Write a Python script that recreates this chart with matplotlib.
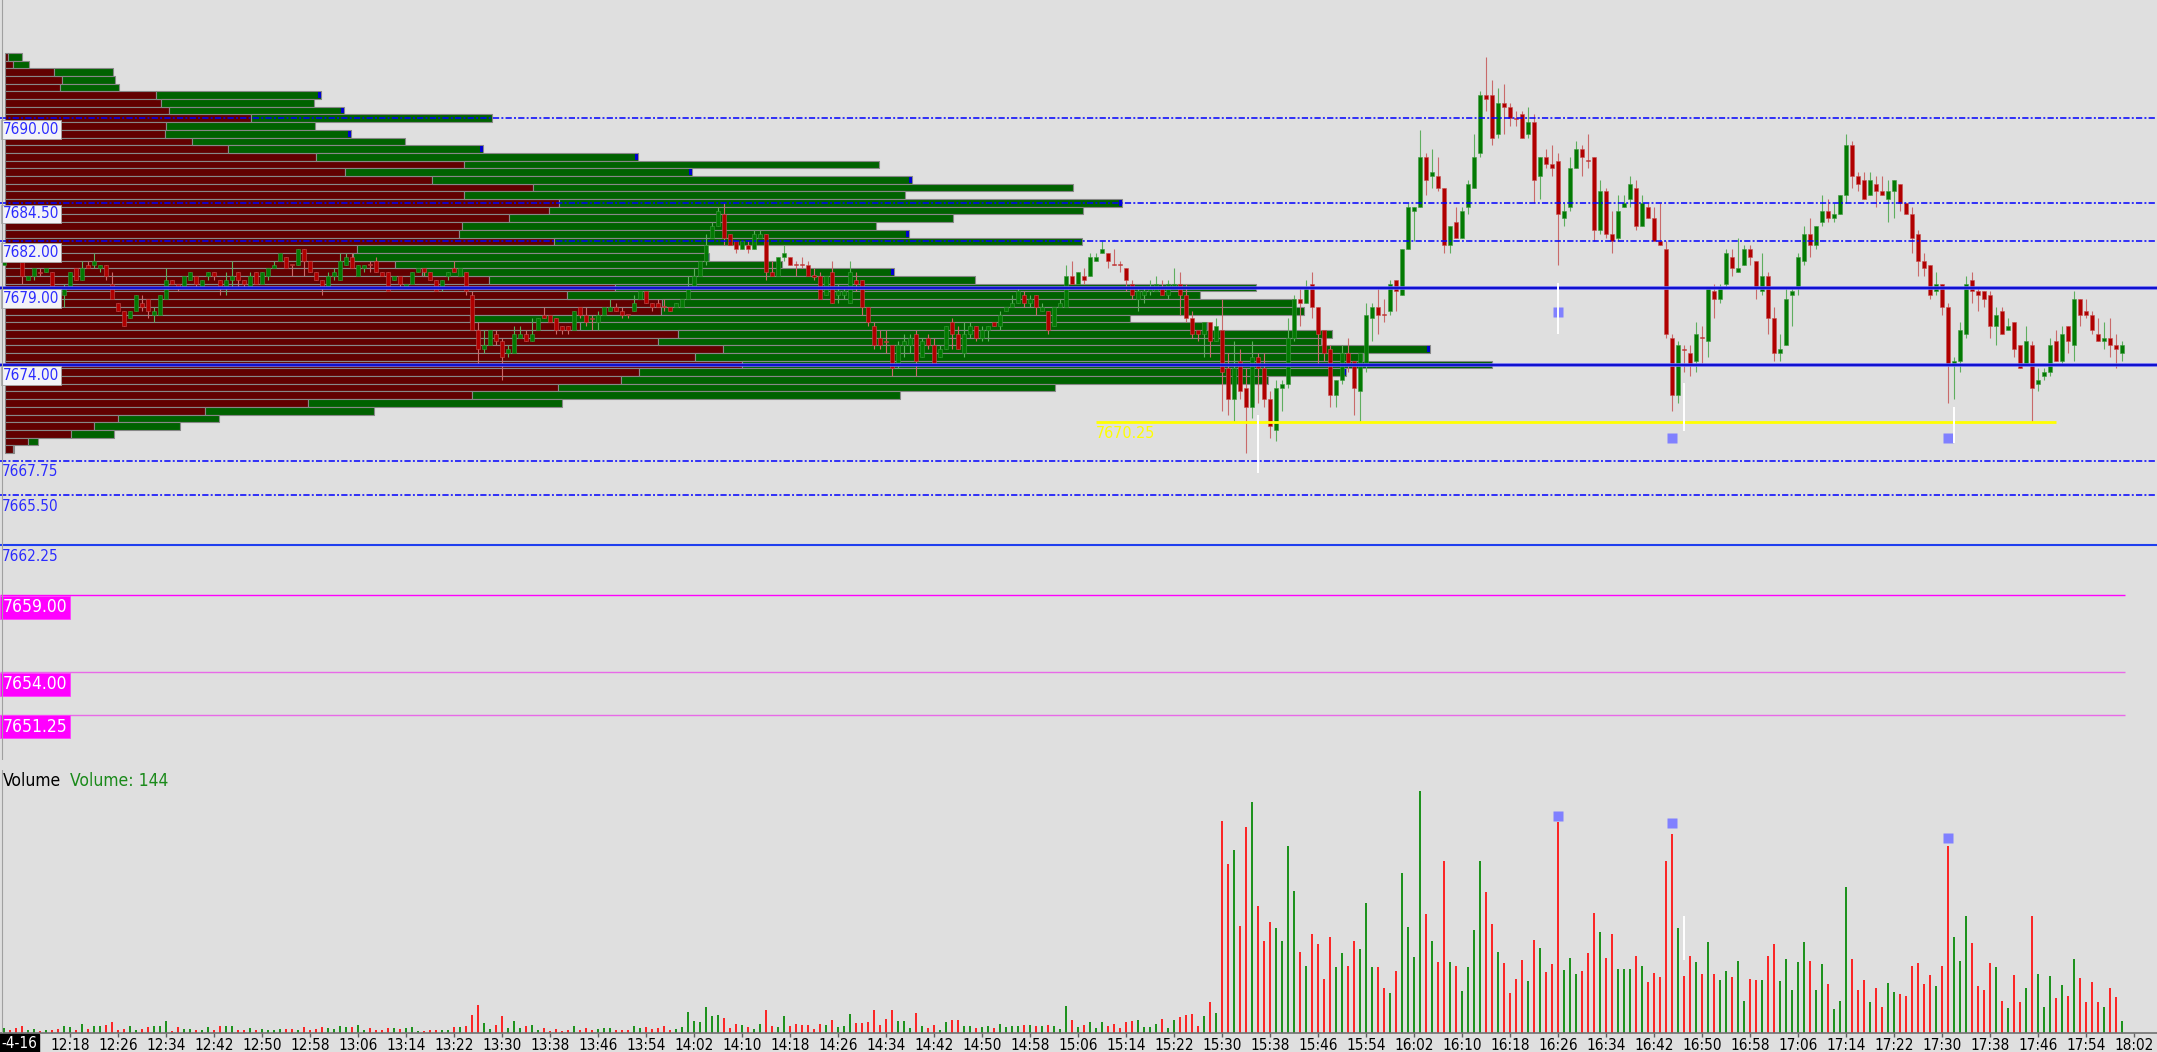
import numpy as np
import matplotlib
matplotlib.use("Agg")
import matplotlib.pyplot as plt
import matplotlib.transforms as mtransforms
from matplotlib import font_manager
from matplotlib.font_manager import FontProperties

# ---------------- data ----------------
session_start = "12:07"

opens = [
 7680.5, 7681.0, 7681.0, 7680.75, 7679.5, 7679.75, 7680.0, 7680.0, 7680.0, 7678.75,
 7678.5, 7679.0, 7680.25, 7679.5, 7680.5, 7680.5, 7680.25, 7680.5, 7679.25, 7678.0,
 7677.5, 7677.0, 7677.5, 7678.0, 7678.25, 7677.25, 7677.25, 7678.25, 7679.5, 7679.25,
 7679.0, 7679.5, 7679.75, 7679.0, 7679.75, 7680.0, 7679.5, 7679.0, 7679.5, 7680.0,
 7679.5, 7679.0, 7680.0, 7679.25, 7679.75, 7680.25, 7680.75, 7681.0, 7680.5, 7680.5,
 7681.5, 7680.75, 7680.0, 7679.5, 7679.0, 7679.75, 7679.5, 7680.5, 7681.0, 7679.75,
 7680.25, 7680.5, 7680.75, 7680.0, 7680.0, 7679.5, 7679.75, 7679.0, 7679.25, 7680.0,
 7680.25, 7680.0, 7679.5, 7679.0, 7679.75, 7680.25, 7679.75, 7680.0, 7678.5, 7676.25,
 7675.0, 7675.25, 7676.0, 7675.5, 7674.75, 7674.75, 7675.75, 7676.0, 7675.5, 7676.25,
 7677.25, 7677.25, 7677.0, 7676.5, 7676.5, 7676.25, 7677.75, 7677.25, 7677.0, 7676.75,
 7677.25, 7677.5, 7677.75, 7677.5, 7677.25, 7677.5, 7678.25, 7678.75, 7678.0, 7678.0,
 7677.75, 7677.75, 7677.75, 7677.75, 7678.25, 7679.0, 7679.75, 7680.75, 7682.25, 7683.0,
 7683.75, 7682.5, 7682.0, 7681.5, 7681.75, 7681.5, 7682.25, 7682.5, 7680.0, 7679.75,
 7681.0, 7681.0, 7680.5, 7680.5, 7680.5, 7679.75, 7679.75, 7678.5, 7680.0, 7678.5,
 7678.5, 7678.0, 7679.5, 7679.5, 7677.75, 7676.5, 7675.75, 7675.5, 7675.25, 7674.0,
 7675.25, 7675.25, 7676.0, 7674.5, 7675.75, 7675.25, 7674.5, 7675.0, 7676.75, 7676.0,
 7674.75, 7676.0, 7676.5, 7675.75, 7676.25, 7676.75, 7676.5, 7677.5, 7677.75, 7678.0,
 7678.5, 7678.0, 7678.5, 7677.5, 7677.5, 7676.5, 7677.75, 7677.75, 7679.75, 7679.25,
 7679.75, 7679.75, 7680.75, 7681.25, 7681.25, 7680.5, 7680.5, 7680.25, 7679.25, 7678.25,
 7678.5, 7678.75, 7678.75, 7679.0, 7678.5, 7679.0, 7679.25, 7678.5, 7677.0, 7676.25,
 7676.0, 7676.75, 7675.5, 7676.25, 7673.75, 7671.75, 7674.25, 7672.5, 7671.25, 7674.5,
 7673.75, 7671.75, 7669.75, 7672.5, 7672.75, 7675.75, 7678.25, 7678.0, 7679.25, 7677.75,
 7676.25, 7675.0, 7672.0, 7673.0, 7674.75, 7674.25, 7672.25, 7674.0, 7677.0, 7677.75,
 7677.25, 7677.5, 7679.5, 7678.5, 7681.5, 7684.0, 7684.25, 7687.5, 7686.25, 7686.25,
 7685.5, 7681.75, 7683.25, 7682.25, 7684.25, 7685.5, 7687.75, 7691.5, 7691.5, 7689.0,
 7691.0, 7690.75, 7690.0, 7690.25, 7689.0, 7689.75, 7686.25, 7687.5, 7687.0, 7687.25,
 7683.5, 7684.25, 7686.75, 7688.0, 7687.25, 7687.5, 7682.75, 7685.25, 7682.5, 7682.25,
 7684.25, 7684.75, 7685.5, 7683.0, 7684.25, 7683.5, 7682.0, 7681.5, 7675.75, 7672.0,
 7675.0, 7674.75, 7674.25, 7675.75, 7675.5, 7678.75, 7678.25, 7679.25, 7681.0, 7680.0,
 7680.5, 7681.5, 7680.75, 7678.75, 7679.75, 7677.0, 7674.75, 7675.25, 7678.5, 7679.0,
 7680.75, 7682.5, 7681.75, 7683.25, 7684.0, 7683.5, 7683.75, 7685.0, 7688.25, 7686.25,
 7686.0, 7685.0, 7685.75, 7685.25, 7684.75, 7685.25, 7685.75, 7684.5, 7683.75, 7682.5,
 7680.75, 7680.5, 7678.75, 7679.25, 7677.75, 7674.0, 7674.25, 7676.0, 7679.5, 7678.75,
 7678.75, 7678.5, 7676.5, 7677.5, 7676.25, 7676.75, 7675.25, 7674.0, 7675.25, 7672.75,
 7673.25, 7673.5, 7675.5, 7674.25, 7676.5, 7675.25, 7678.25, 7677.5, 7677.25, 7676.0,
 7675.5, 7675.75, 7675.25, 7674.75]

highs = [
 7681.25, 7681.0, 7681.0, 7680.75, 7679.75, 7680.25, 7680.25, 7680.25, 7680.0, 7679.0,
 7679.25, 7680.0, 7680.25, 7680.75, 7680.75, 7681.25, 7680.5, 7680.5, 7680.0, 7678.0,
 7677.5, 7677.5, 7678.5, 7678.5, 7678.25, 7677.75, 7678.5, 7680.25, 7679.5, 7679.25,
 7679.75, 7680.0, 7679.75, 7679.5, 7680.0, 7680.0, 7679.5, 7680.0, 7680.75, 7680.0,
 7679.5, 7680.0, 7680.0, 7680.0, 7680.25, 7680.75, 7681.25, 7681.0, 7680.5, 7681.5,
 7681.5, 7680.75, 7680.0, 7679.5, 7680.0, 7680.25, 7681.25, 7681.25, 7681.25, 7680.5,
 7680.5, 7680.75, 7681.0, 7680.0, 7680.0, 7679.75, 7679.75, 7679.25, 7680.0, 7680.25,
 7680.25, 7680.0, 7679.5, 7679.5, 7680.0, 7680.75, 7680.25, 7680.0, 7678.75, 7676.75,
 7676.25, 7676.25, 7676.25, 7675.75, 7675.25, 7676.5, 7676.5, 7676.25, 7677.0, 7677.0,
 7677.75, 7677.25, 7677.0, 7676.5, 7676.5, 7677.5, 7677.75, 7677.75, 7677.25, 7677.5,
 7677.75, 7678.25, 7678.0, 7677.75, 7677.25, 7678.5, 7678.75, 7678.75, 7678.0, 7678.25,
 7678.25, 7677.75, 7678.0, 7678.25, 7679.75, 7680.25, 7680.75, 7682.5, 7683.25, 7684.25,
 7684.5, 7682.5, 7682.0, 7682.0, 7682.0, 7682.75, 7682.75, 7682.5, 7680.75, 7681.0,
 7681.75, 7681.0, 7680.75, 7681.0, 7680.75, 7680.25, 7680.0, 7679.75, 7680.75, 7679.25,
 7679.0, 7680.75, 7680.0, 7679.5, 7677.75, 7676.75, 7676.25, 7676.25, 7675.25, 7675.5,
 7676.0, 7676.0, 7676.25, 7675.75, 7676.0, 7675.75, 7675.25, 7676.5, 7677.0, 7676.5,
 7676.75, 7676.75, 7676.5, 7676.5, 7676.5, 7676.75, 7677.5, 7677.75, 7678.5, 7679.0,
 7678.75, 7678.5, 7678.5, 7678.0, 7677.5, 7677.75, 7678.25, 7680.5, 7680.75, 7680.0,
 7680.25, 7681.25, 7681.25, 7682.0, 7681.25, 7681.5, 7680.75, 7680.25, 7679.5, 7679.0,
 7679.0, 7679.5, 7679.75, 7679.5, 7679.5, 7680.25, 7680.0, 7679.25, 7677.5, 7676.25,
 7676.75, 7676.75, 7677.0, 7678.25, 7674.75, 7675.5, 7675.0, 7673.75, 7675.5, 7674.75,
 7674.75, 7672.25, 7673.0, 7673.0, 7677.0, 7678.5, 7679.0, 7679.5, 7680.0, 7677.75,
 7676.25, 7675.25, 7673.0, 7675.25, 7675.75, 7674.25, 7674.75, 7678.0, 7678.0, 7679.0,
 7678.25, 7679.5, 7679.5, 7681.5, 7684.5, 7684.25, 7689.25, 7687.75, 7688.0, 7687.5,
 7685.5, 7683.0, 7684.25, 7684.25, 7686.0, 7689.0, 7691.75, 7694.0, 7692.5, 7692.0,
 7692.25, 7691.0, 7690.5, 7690.5, 7690.75, 7690.25, 7687.5, 7688.0, 7688.25, 7687.75,
 7684.5, 7687.5, 7688.5, 7688.25, 7689.0, 7687.5, 7686.0, 7685.5, 7684.0, 7685.0,
 7685.0, 7686.25, 7686.0, 7685.0, 7684.5, 7684.25, 7684.5, 7682.0, 7676.0, 7675.5,
 7675.25, 7675.25, 7676.75, 7676.5, 7679.0, 7679.25, 7679.25, 7681.5, 7681.5, 7682.25,
 7681.75, 7681.75, 7680.75, 7681.25, 7680.0, 7677.75, 7676.0, 7679.0, 7679.0, 7681.25,
 7683.0, 7683.5, 7683.0, 7685.0, 7684.75, 7684.5, 7685.0, 7689.0, 7688.5, 7686.5,
 7686.5, 7686.5, 7686.25, 7686.25, 7686.0, 7686.0, 7685.75, 7684.5, 7684.25, 7682.75,
 7681.25, 7680.5, 7680.0, 7679.25, 7678.0, 7674.5, 7676.75, 7679.75, 7680.0, 7679.0,
 7678.75, 7678.75, 7677.75, 7677.75, 7677.0, 7676.75, 7675.25, 7676.5, 7675.5, 7673.75,
 7673.75, 7675.75, 7676.25, 7676.5, 7676.5, 7678.75, 7678.25, 7678.25, 7677.5, 7677.0,
 7676.75, 7677.0, 7676.0, 7675.5]

lows = [
 7680.5, 7680.75, 7680.75, 7679.25, 7679.5, 7679.5, 7679.75, 7680.0, 7679.0, 7678.0,
 7677.75, 7679.0, 7679.5, 7679.5, 7680.25, 7680.25, 7680.0, 7679.5, 7678.25, 7677.5,
 7676.5, 7677.0, 7677.5, 7677.5, 7677.0, 7676.75, 7677.25, 7678.25, 7679.25, 7678.75,
 7679.0, 7679.5, 7679.0, 7679.0, 7679.5, 7679.5, 7678.5, 7678.5, 7679.0, 7679.0,
 7679.0, 7679.0, 7679.25, 7679.25, 7679.5, 7680.25, 7680.75, 7680.25, 7679.75, 7680.5,
 7679.75, 7680.0, 7679.5, 7678.5, 7679.0, 7679.5, 7679.5, 7680.5, 7680.25, 7679.75,
 7680.0, 7680.0, 7680.0, 7679.75, 7678.75, 7679.5, 7679.0, 7679.0, 7679.25, 7680.0,
 7679.75, 7679.5, 7678.75, 7678.75, 7679.5, 7680.0, 7679.75, 7678.5, 7676.25, 7674.0,
 7674.75, 7675.25, 7675.25, 7673.0, 7674.5, 7674.75, 7675.75, 7675.5, 7675.5, 7676.25,
 7677.0, 7676.75, 7676.0, 7676.0, 7676.0, 7676.25, 7677.0, 7676.5, 7676.25, 7676.25,
 7677.25, 7677.5, 7677.5, 7677.0, 7677.0, 7677.5, 7678.25, 7678.0, 7677.5, 7677.75,
 7677.5, 7677.5, 7677.75, 7677.75, 7678.25, 7679.0, 7679.75, 7680.5, 7682.25, 7683.0,
 7681.75, 7681.75, 7681.25, 7681.5, 7681.25, 7681.5, 7682.25, 7679.5, 7679.75, 7679.75,
 7680.75, 7680.5, 7679.75, 7680.25, 7679.75, 7679.5, 7678.25, 7678.5, 7678.0, 7678.0,
 7678.25, 7678.0, 7678.75, 7677.25, 7676.5, 7675.0, 7675.0, 7674.75, 7673.25, 7673.75,
 7674.5, 7674.75, 7673.25, 7674.5, 7675.0, 7674.0, 7674.5, 7675.0, 7675.0, 7675.0,
 7674.5, 7675.75, 7675.5, 7675.5, 7675.5, 7676.5, 7676.25, 7677.5, 7677.75, 7678.0,
 7677.75, 7677.75, 7677.25, 7677.5, 7676.0, 7676.5, 7677.75, 7677.75, 7679.25, 7679.25,
 7679.25, 7679.75, 7680.75, 7681.25, 7680.25, 7680.5, 7680.0, 7678.75, 7678.25, 7677.5,
 7678.0, 7678.5, 7678.75, 7678.5, 7678.25, 7679.0, 7677.25, 7676.75, 7675.75, 7675.5,
 7674.5, 7674.5, 7675.5, 7671.0, 7670.75, 7670.25, 7671.75, 7668.25, 7670.5, 7671.5,
 7671.25, 7669.25, 7669.0, 7671.0, 7672.5, 7675.5, 7676.5, 7678.0, 7677.0, 7674.0,
 7674.25, 7671.25, 7671.25, 7672.75, 7673.5, 7670.75, 7670.25, 7673.5, 7675.5, 7676.0,
 7676.75, 7677.25, 7677.5, 7678.5, 7681.5, 7682.0, 7684.25, 7685.0, 7685.5, 7685.25,
 7681.25, 7681.25, 7682.25, 7682.25, 7683.75, 7685.5, 7687.5, 7690.5, 7688.25, 7688.75,
 7689.0, 7689.5, 7689.5, 7688.75, 7688.75, 7684.5, 7684.75, 7686.75, 7686.25, 7680.5,
 7683.0, 7684.0, 7686.75, 7686.25, 7686.75, 7682.0, 7682.5, 7682.25, 7681.25, 7682.0,
 7684.25, 7684.25, 7682.75, 7683.0, 7683.5, 7682.0, 7681.75, 7675.75, 7671.0, 7671.5,
 7673.5, 7673.25, 7673.5, 7674.0, 7674.5, 7677.0, 7678.0, 7679.0, 7679.75, 7680.0,
 7680.5, 7680.5, 7678.25, 7678.5, 7676.0, 7674.25, 7674.25, 7675.25, 7676.5, 7678.5,
 7680.5, 7681.0, 7681.5, 7683.0, 7683.25, 7683.25, 7683.75, 7684.5, 7685.5, 7685.25,
 7684.75, 7685.0, 7684.25, 7685.0, 7683.25, 7683.5, 7684.0, 7683.75, 7681.25, 7679.75,
 7679.75, 7678.25, 7678.5, 7677.25, 7671.5, 7671.75, 7673.5, 7675.75, 7678.0, 7677.5,
 7677.75, 7675.75, 7675.25, 7676.0, 7676.25, 7674.5, 7673.75, 7674.0, 7670.25, 7672.25,
 7673.0, 7673.25, 7674.25, 7674.0, 7674.75, 7674.25, 7676.5, 7677.0, 7676.0, 7675.5,
 7675.0, 7674.5, 7673.75, 7674.25]

closes = [
 7681.0, 7680.75, 7680.75, 7679.75, 7679.75, 7680.25, 7680.0, 7680.25, 7679.0, 7678.5,
 7679.0, 7680.0, 7679.5, 7680.25, 7680.25, 7680.75, 7680.5, 7679.75, 7678.25, 7677.5,
 7676.5, 7677.5, 7678.5, 7677.75, 7677.5, 7677.5, 7678.5, 7679.5, 7679.25, 7679.0,
 7679.75, 7680.0, 7679.25, 7679.5, 7680.0, 7679.75, 7679.0, 7679.5, 7679.75, 7679.5,
 7679.25, 7679.75, 7679.25, 7680.0, 7680.25, 7680.5, 7681.25, 7680.25, 7680.5, 7681.5,
 7680.75, 7680.0, 7679.5, 7679.0, 7679.75, 7680.0, 7680.75, 7681.0, 7680.25, 7680.5,
 7680.5, 7680.5, 7680.0, 7679.75, 7678.75, 7679.75, 7679.25, 7679.25, 7680.0, 7680.25,
 7680.0, 7679.5, 7678.75, 7679.5, 7680.0, 7680.0, 7680.25, 7678.75, 7676.25, 7675.0,
 7675.25, 7676.25, 7675.5, 7674.5, 7675.0, 7676.0, 7676.0, 7675.5, 7676.0, 7677.0,
 7677.0, 7676.75, 7676.25, 7676.25, 7676.25, 7677.5, 7677.25, 7676.75, 7677.0, 7677.25,
 7677.75, 7677.75, 7677.5, 7677.25, 7677.25, 7678.0, 7678.75, 7678.0, 7677.75, 7677.75,
 7677.75, 7677.5, 7678.0, 7678.25, 7679.0, 7679.75, 7680.75, 7681.75, 7683.0, 7684.0,
 7682.25, 7681.75, 7681.5, 7682.0, 7681.5, 7682.5, 7682.5, 7680.0, 7679.75, 7681.0,
 7681.25, 7680.5, 7680.5, 7680.5, 7679.75, 7679.75, 7678.25, 7679.75, 7678.0, 7678.75,
 7678.75, 7680.0, 7679.25, 7677.75, 7676.75, 7675.25, 7675.25, 7675.5, 7673.75, 7675.25,
 7675.5, 7675.75, 7674.25, 7675.5, 7675.25, 7674.0, 7675.0, 7676.5, 7676.0, 7675.0,
 7676.0, 7676.5, 7675.75, 7676.25, 7676.5, 7676.5, 7677.25, 7677.75, 7678.0, 7678.75,
 7678.0, 7678.25, 7677.75, 7677.75, 7676.25, 7677.75, 7678.0, 7679.75, 7679.25, 7680.0,
 7679.5, 7681.0, 7681.0, 7681.5, 7680.75, 7680.5, 7680.5, 7679.5, 7678.5, 7678.75,
 7678.75, 7679.0, 7679.25, 7678.5, 7679.25, 7679.25, 7678.5, 7677.0, 7676.0, 7676.0,
 7676.75, 7675.5, 7676.5, 7673.5, 7671.75, 7673.75, 7672.25, 7671.25, 7674.5, 7673.75,
 7671.75, 7670.0, 7672.5, 7672.75, 7675.75, 7678.25, 7678.0, 7679.0, 7677.75, 7676.0,
 7674.75, 7672.0, 7673.0, 7674.75, 7674.0, 7672.5, 7674.75, 7677.25, 7677.75, 7677.25,
 7677.25, 7679.25, 7678.75, 7681.5, 7684.25, 7684.25, 7687.5, 7686.0, 7686.5, 7685.5,
 7681.75, 7683.0, 7682.25, 7684.0, 7685.75, 7687.5, 7691.5, 7691.25, 7688.75, 7691.0,
 7690.75, 7690.0, 7690.0, 7688.75, 7689.75, 7686.0, 7687.5, 7687.0, 7686.75, 7683.75,
 7684.0, 7686.75, 7688.0, 7687.5, 7687.25, 7682.75, 7685.25, 7682.5, 7682.0, 7684.0,
 7684.5, 7685.75, 7683.0, 7684.5, 7683.5, 7682.0, 7681.75, 7676.0, 7672.0, 7675.25,
 7675.0, 7674.0, 7676.0, 7675.75, 7679.0, 7678.25, 7679.0, 7681.25, 7680.25, 7680.25,
 7681.5, 7681.0, 7679.0, 7679.75, 7677.0, 7674.75, 7675.0, 7678.25, 7678.75, 7681.0,
 7682.5, 7681.75, 7683.0, 7684.0, 7683.5, 7683.75, 7685.0, 7688.25, 7686.25, 7685.75,
 7684.75, 7686.0, 7685.25, 7685.0, 7685.25, 7686.0, 7684.5, 7683.75, 7682.25, 7680.75,
 7680.25, 7678.5, 7679.25, 7677.75, 7674.0, 7674.25, 7676.25, 7679.25, 7678.75, 7678.5,
 7678.25, 7676.5, 7677.25, 7676.0, 7676.5, 7675.0, 7673.75, 7675.5, 7672.5, 7673.0,
 7673.5, 7675.25, 7674.25, 7676.0, 7675.5, 7678.25, 7677.25, 7677.25, 7676.25, 7675.5,
 7675.75, 7675.25, 7675.0, 7675.25]

volumes = [
 62, 33, 62, 82, 33, 49, 21, 33, 41, 49,
 82, 70, 33, 111, 49, 90, 82, 94, 135, 33,
 49, 82, 41, 49, 70, 82, 90, 152, 21, 70,
 49, 49, 33, 41, 74, 41, 82, 90, 82, 41,
 41, 57, 41, 49, 37, 41, 49, 49, 49, 41,
 70, 33, 49, 74, 57, 49, 82, 70, 70, 94,
 33, 66, 33, 41, 62, 62, 49, 57, 74, 21,
 21, 41, 41, 41, 41, 70, 70, 82, 226, 349,
 123, 49, 103, 213, 62, 152, 62, 82, 98, 41,
 57, 29, 49, 21, 33, 82, 41, 66, 41, 49,
 66, 66, 41, 41, 41, 82, 62, 74, 49, 62,
 90, 41, 49, 74, 254, 144, 131, 316, 205, 226,
 185, 62, 115, 94, 70, 49, 115, 287, 82, 74,
 205, 82, 115, 94, 103, 49, 115, 94, 164, 70,
 82, 238, 123, 123, 135, 287, 103, 176, 287, 152,
 152, 62, 246, 90, 62, 103, 41, 135, 164, 164,
 90, 90, 62, 70, 82, 62, 111, 70, 82, 90,
 103, 103, 82, 90, 94, 82, 49, 336, 164, 70,
 94, 135, 62, 135, 82, 115, 62, 131, 152, 164,
 74, 74, 111, 172, 62, 156, 193, 226, 238, 90,
 213, 381, 246, 2612, 2083, 2255, 1312, 2534, 2841, 1558,
 1128, 1365, 1292, 1128, 2304, 1751, 992, 828, 1222, 1099,
 664, 1181, 812, 984, 828, 1136, 1033, 1599, 812, 812,
 554, 492, 767, 1968, 1304, 935, 2981, 1468, 1136, 873,
 2120, 869, 828, 521, 812, 1263, 2120, 1734, 1345, 992,
 861, 492, 664, 902, 644, 1148, 1046, 746, 849, 2591,
 771, 923, 730, 767, 984, 1476, 1242, 923, 1222, 787,
 787, 787, 943, 828, 623, 738, 689, 2120, 2452, 1292,
 705, 951, 873, 730, 1119, 726, 656, 759, 685, 890,
 398, 664, 656, 656, 943, 1099, 644, 910, 533, 869,
 1119, 890, 533, 853, 603, 299, 398, 1796, 914, 533,
 656, 381, 554, 320, 615, 504, 480, 459, 820, 861,
 603, 709, 582, 820, 2304, 1181, 890, 1435, 1107, 582,
 525, 861, 812, 398, 308, 709, 381, 554, 1443, 726,
 320, 705, 431, 586, 451, 910, 677, 381, 623, 381,
 320, 554, 443, 144]

# volume profile (top row price, row step, sell / buy volume per row)
profile_top = 7694.0
profile_step = 0.5
profile_sell = [35, 80, 491, 571, 558, 1513, 1562, 1643, 2464, 1611,
                1607, 1875, 2235, 3111, 4598, 3401, 4275, 5281, 4598, 5545,
                5445, 5045, 4575, 4540, 5491, 3525, 3482, 3905, 4175, 4843,
                6102, 5625, 6578, 6565, 4655, 5755, 6738, 6532, 7188, 6905,
                7372, 6348, 6162, 5535, 4678, 3035, 2008, 1138, 892, 669,
                232, 80]
profile_buy = [143, 161, 589, 536, 585, 1656, 1531, 1754, 2415, 1491,
               1861, 2130, 2550, 3228, 4143, 3474, 4800, 5404, 4402, 5630,
               5340, 4440, 4135, 4505, 5284, 3480, 3563, 3867, 4720, 4862,
               6410, 6330, 6323, 6426, 6600, 6270, 6537, 6633, 7067, 6680,
               7503, 7067, 6473, 4970, 4272, 2536, 1683, 1004, 863, 424,
               103, 18]
profile_tip_levels = [7691.5, 7690.5, 7689.0, 7688.0, 7687.5, 7686.5, 7686.0,
                      7684.5, 7682.5, 7681.0, 7680.0, 7676.5, 7675.0, 7673.5]

# horizontal levels
dashdot_levels = [7690.00, 7684.50, 7682.00, 7667.75, 7665.50]
thick_levels = [7679.00, 7674.00]
thin_solid_levels = [7662.25]
boxed_label_levels = [7690.00, 7684.50, 7682.00, 7679.00, 7674.00]
plain_label_levels = [7667.75, 7665.50, 7662.25]
magenta_levels = [7659.00, 7654.00, 7651.25]
yellow_level = 7670.25
yellow_bar_range = [182, 342]

# markers
square_bars = [259, 278, 324]
square_prices = [7677.4, 7669.2, 7669.25]
square_volumes = [2675, 2589, 2399]
white_bars = [209, 259, 280, 325]
white_low = [7666.95, 7676.0, 7669.7, 7668.9]
white_high = [7670.72, 7679.3, 7672.8, 7671.25]
white_vol_bar = 280
white_vol_range = [898, 1439]

tick_labels = ["12:18", "12:26", "12:34", "12:42", "12:50", "12:58", "13:06", "13:14",
               "13:22", "13:30", "13:38", "13:46", "13:54", "14:02", "14:10", "14:18",
               "14:26", "14:34", "14:42", "14:50", "14:58", "15:06", "15:14", "15:22",
               "15:30", "15:38", "15:46", "15:54", "16:02", "16:10", "16:18", "16:26",
               "16:34", "16:42", "16:50", "16:58", "17:06", "17:14", "17:22", "17:30",
               "17:38", "17:46", "17:54", "18:02"]
date_label = "-4-16"

# ---------------- fonts ----------------
plt.rcParams["lines.scale_dashes"] = False


def pick_narrow_font():
    ranked = []
    for f in font_manager.fontManager.ttflist:
        nm = f.name.lower()
        fn = f.fname.lower()
        st = str(f.stretch).lower()
        if "bold" in fn or "italic" in fn or "oblique" in fn or "light" in fn:
            continue
        if f.weight not in (400, "normal", "regular", "book"):
            continue
        narrow = ("narrow" in nm or "condensed" in nm or "narrow" in fn or "condensed" in fn
                  or st in ("condensed", "semi-condensed", "extra-condensed"))
        if not narrow:
            continue
        score = 0 if "liberation" in nm else (1 if "dejavu" in nm else 2)
        ranked.append((score, f.fname))
    if ranked:
        ranked.sort()
        return FontProperties(fname=ranked[0][1]), 1.0
    return FontProperties(family="Roboto"), 0.88


FP, FS = pick_narrow_font()


def fp(size):
    p = FP.copy()
    p.set_size(size * FS)
    return p


# ---------------- layout ----------------
W, H, DPI = 2157, 1052, 100
BG = "#dfdfdf"
PX_BAR, BAR0 = 6.0, 4.2          # pixels per bar, x of first bar
PX_PT, Y_REF, P_REF = 15.39, 118.3, 7690.0
PRICE_BOTTOM = 760
VOL_TOP, VOL_BASE = 770, 1033
VOL_PER_PX = 12.3
PROF_PER_PX, PROF_X0 = 10.0, 4.5

fig = plt.figure(figsize=(W / DPI, H / DPI), dpi=DPI)
fig.patch.set_facecolor(BG)


def frac_rect(top, bottom):
    return [0.0, 1 - bottom / H, 1.0, (bottom - top) / H]


xlim = (-BAR0 / PX_BAR, (W - BAR0) / PX_BAR)
ylim = (P_REF - (PRICE_BOTTOM - Y_REF) / PX_PT, P_REF + Y_REF / PX_PT)

axp = fig.add_axes(frac_rect(0, PRICE_BOTTOM))
axp.set_xlim(-PROF_X0 * PROF_PER_PX, (W - PROF_X0) * PROF_PER_PX)
axp.set_ylim(*ylim)
axp.set_axis_off()

ax = fig.add_axes(frac_rect(0, PRICE_BOTTOM))
ax.set_xlim(*xlim)
ax.set_ylim(*ylim)
ax.set_axis_off()

axv = fig.add_axes(frac_rect(VOL_TOP, VOL_BASE))
axv.set_xlim(*xlim)
axv.set_ylim(0, (VOL_BASE - VOL_TOP) * VOL_PER_PX)
axv.patch.set_visible(False)
for s in ["top", "right", "left"]:
    axv.spines[s].set_visible(False)
axv.spines["bottom"].set_color("#707070")
axv.spines["bottom"].set_linewidth(1.2)
axv.set_yticks([])

# ---------------- volume profile ----------------
sell = np.array(profile_sell, float)
buy = np.array(profile_buy, float)
levels = profile_top - profile_step * np.arange(len(sell))
axp.barh(levels, sell, height=profile_step, left=0, color="#620000",
         edgecolor="#878787", linewidth=0.8)
axp.barh(levels, buy, height=profile_step, left=sell, color="#006200",
         edgecolor="#878787", linewidth=0.8)
tot = sell + buy
for lv in profile_tip_levels:
    k = int(round((profile_top - lv) / profile_step))
    axp.barh(lv, 3 * PROF_PER_PX, left=tot[k] - 3 * PROF_PER_PX,
             height=profile_step * 0.75, color="#0000d0", linewidth=0)

# ---------------- candles ----------------
n = min(len(opens), len(highs), len(lows), len(closes), len(volumes))
o = np.array(opens[:n]); h = np.array(highs[:n])
l = np.array(lows[:n]); c = np.array(closes[:n])
idx = np.arange(n)
up = c > o
body_col = np.where(up, "#037a03", "#b00000")
edge_col = np.where(up, "#3f9a3f", "#c65050")
wick_col = np.where(up, "#5fae5f", "#c96a6a")
ax.vlines(idx, l, h, colors=wick_col, linewidth=0.8, zorder=3)
min_h = 1.3 / PX_PT
bh = np.maximum(np.abs(c - o), min_h)
bottom = np.where(np.abs(c - o) < min_h, (o + c) / 2 - min_h / 2, np.minimum(o, c))
ax.bar(idx, bh, bottom=bottom, width=0.58, color=body_col, edgecolor=edge_col,
       linewidth=0.4, zorder=4)

# ---------------- levels ----------------
for lv in dashdot_levels:
    ax.axhline(lv, color="#0000ff", linewidth=1.1,
               linestyle=(0, (4.5, 1.6, 1.4, 1.6)), zorder=5)
for lv in thick_levels:
    ax.axhline(lv, color="#6a6af2", linewidth=2.6, zorder=5)
    ax.axhline(lv, color="#0000c8", linewidth=1.2, zorder=5)
for lv in thin_solid_levels:
    ax.axhline(lv, color="#1f3fef", linewidth=1.5, zorder=5)
mag_end = (2125 - BAR0) / PX_BAR
ax.hlines(magenta_levels[0], xlim[0], mag_end, color="#ff00ff", linewidth=1.0, zorder=5)
ax.hlines(magenta_levels[1:], xlim[0], mag_end, color="#e86ae8", linewidth=1.0, zorder=5)
ax.hlines(yellow_level, yellow_bar_range[0], yellow_bar_range[1], color="#ffff00",
          linewidth=2.0, zorder=5)

bl = mtransforms.blended_transform_factory(ax.transAxes, ax.transData)
for lv in boxed_label_levels:
    ax.text(2.5 / W, lv - 3.5 / PX_PT, f"{lv:.2f}", transform=bl, va="top", ha="left",
            fontproperties=fp(11), color="#2b2bff", zorder=8,
            bbox=dict(boxstyle="square,pad=0.12", fc="#f3f3f7", ec="#a4a4a4", lw=0.6))
for lv in plain_label_levels:
    ax.text(2 / W, lv - 3.5 / PX_PT, f"{lv:.2f}", transform=bl, va="top", ha="left",
            fontproperties=fp(11), color="#2b2bff", zorder=8)
for lv in magenta_levels:
    ax.text(3 / W, lv - 3.0 / PX_PT, f"{lv:.2f}", transform=bl, va="top", ha="left",
            fontproperties=fp(12.5), color="white", zorder=8,
            bbox=dict(boxstyle="square,pad=0.15", fc="#ff00ff", ec="#ff40ff", lw=0.6))
ax.text(yellow_bar_range[0], yellow_level - 3.5 / PX_PT, f"{yellow_level:.2f}",
        va="top", ha="left", fontproperties=fp(11.5), color="#ffff00", zorder=8)

# ---------------- markers ----------------
ax.plot(square_bars, square_prices, "s", ms=7.3, color="#8080ff", mec="none", zorder=6)
ax.vlines(white_bars, white_low, white_high, colors="white", linewidth=1.4, zorder=7)

# ---------------- volume ----------------
vol = np.array(volumes[:n])
vol_col = np.where(up, "#0a8a0a", "#ff1414")
axv.vlines(idx, 0, vol, colors=vol_col, linewidth=1.3)
axv.plot(square_bars, square_volumes, "s", ms=7.3, color="#8080ff", mec="none", zorder=6)
axv.vlines(white_vol_bar, white_vol_range[0], white_vol_range[1], colors="white",
           linewidth=1.4, zorder=7)


def minutes(s):
    hh, mm = s.split(":")
    return int(hh) * 60 + int(mm)


t0 = minutes(session_start)
axv.set_xticks([minutes(s) - t0 for s in tick_labels])
axv.set_xticklabels(tick_labels)
for t in axv.get_xticklabels():
    t.set_fontproperties(fp(11))
axv.tick_params(axis="x", length=3, width=1, color="#606060", pad=0.5, labelcolor="black")

t_vol = fig.text(3 / W, 1 - 781 / H, "Volume", va="center", ha="left",
                 fontproperties=fp(12.5), color="black")
fig.text(0, 0, f"Volume: {volumes[n - 1]}", va="center", ha="left",
         fontproperties=fp(12.5), color="#1a8a1a",
         transform=mtransforms.offset_copy(fig.transFigure, fig=fig, x=0, y=0))
# place the green read-out just right of the black title
fig.texts[-1].remove()
axv.annotate(f"Volume: {volumes[n - 1]}", xy=(1, 0.5), xycoords=t_vol,
             xytext=(9, 0), textcoords="offset pixels", va="center", ha="left",
             fontproperties=fp(12.5), color="#1a8a1a", annotation_clip=False)
fig.text(1 / W, 1 - 1043 / H, date_label, va="center", ha="left",
         fontproperties=fp(11), color="white",
         bbox=dict(boxstyle="square,pad=0.12", fc="black", ec="black"))

ax.axvline(xlim[0] + 1.5 / PX_BAR, color="#a0a0a0", linewidth=0.8, zorder=9)
axv.axvline(xlim[0] + 1.5 / PX_BAR, color="#a0a0a0", linewidth=0.8, zorder=9)

fig.savefig("out.png", dpi=DPI, facecolor=BG)
